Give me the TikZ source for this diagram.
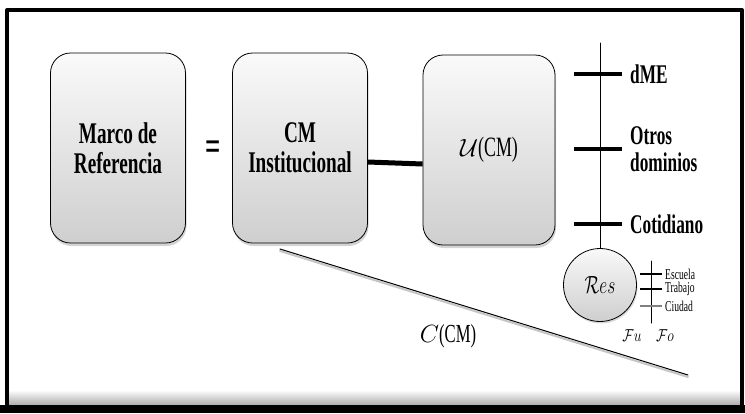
\documentclass[tikz,border=0pt]{standalone}
\usepackage{fontspec}
\setmainfont{Liberation Serif}[FakeStretch=0.64]
\usetikzlibrary{shadows}
\tikzset{
 caja/.style={draw,line width=0.8pt,rounded corners=20pt,minimum width=135pt,minimum height=190pt,top color=gray!4,bottom color=gray!38,drop shadow={shadow xshift=1pt,shadow yshift=-3pt,opacity=0.35},align=center,font=\fontsize{30}{30}\selectfont\bfseries},
 marca/.style={line width=3.5pt,line cap=butt},
 dom/.style={anchor=west,align=left,inner sep=1pt,font=\fontsize{27}{27}\selectfont\bfseries},
 ctx/.style={anchor=west,inner sep=0pt,font=\fontsize{15}{15}\selectfont}
}
\begin{document}
\begin{tikzpicture}[x=1pt,y=-1pt,line join=round,line cap=round]
 \useasboundingbox (0,0) rectangle (745,413);
 % marco exterior
 \shade[top color=white,bottom color=gray!65] (8,390) rectangle (742,405);
 \fill[black] (0,405) rectangle (745,413);
 \draw[line width=4pt,line cap=rect] (7,405) -- (7,10) -- (742,10) -- (742,405);
 % cajas
 \node[caja] (marco) at (118,148) {Marco de\\Referencia};
 \node[font=\fontsize{42}{42}\selectfont\bfseries] (igual) at (213,151) {=};
 \node[caja] (inst) at (300,148) {CM\\Institucional};
 \node[caja,minimum width=132pt,font=\fontsize{28}{28}\selectfont] (uso) at (489,150) {$\mathcal{U}$(CM)};
 \draw[line width=5pt,line cap=butt] ([yshift=-14pt]inst.east) -- ([yshift=-14pt]uso.west);
 % eje de dominios
 \coordinate (eje) at (600,43);
 \node[circle,draw,line width=0.8pt,minimum size=73pt,top color=gray!5,bottom color=gray!38,drop shadow={shadow xshift=1pt,shadow yshift=-2pt,opacity=0.3},font=\fontsize{26}{26}\selectfont] (res) at (600,285) {\scalebox{0.7}[1]{$\mathcal{R}es$}};
 \draw[line width=0.8pt] (eje) -- (res.north);
 \foreach \y/\n/\t in {74/dme/dME,149/otros/{Otros\\dominios},224/coti/Cotidiano}{
  \draw[marca] (574,\y) -- (622,\y);
  \node[dom] (\n) at (629,\y) {\t};
 }
 % contextos de Res
 \coordinate (fa) at (651,261);
 \coordinate (fb) at (651,323);
 \draw[line width=1pt] (fa) -- (fb);
 \foreach \y/\n/\t/\c in {274/esc/Escuela/black,289/trab/Trabajo/black,306/ciu/Ciudad/gray}{
  \draw[line width=1.8pt,line cap=butt,\c] (640,\y) -- (662,\y);
  \node[ctx] (\n) at (665,\y) {\t};
 }
 \node[font=\fontsize{19}{19}\selectfont] (fu) at (632,336) {\scalebox{0.8}[1]{$\mathcal{F}u$}};
 \node[font=\fontsize{19}{19}\selectfont] (fo) at (665,336) {\scalebox{0.8}[1]{$\mathcal{F}o$}};
 % C(CM)
 \coordinate (ca) at (280,249);
 \coordinate (cb) at (688,375);
 \draw[gray!45,line width=2pt] ([yshift=-2pt]ca) -- ([yshift=-2pt]cb);
 \draw[line width=1pt] (ca) -- (cb);
 \node[font=\fontsize{26}{26}\selectfont] (ccm) at (448,336) {$C$(CM)};
\end{tikzpicture}
\end{document}
